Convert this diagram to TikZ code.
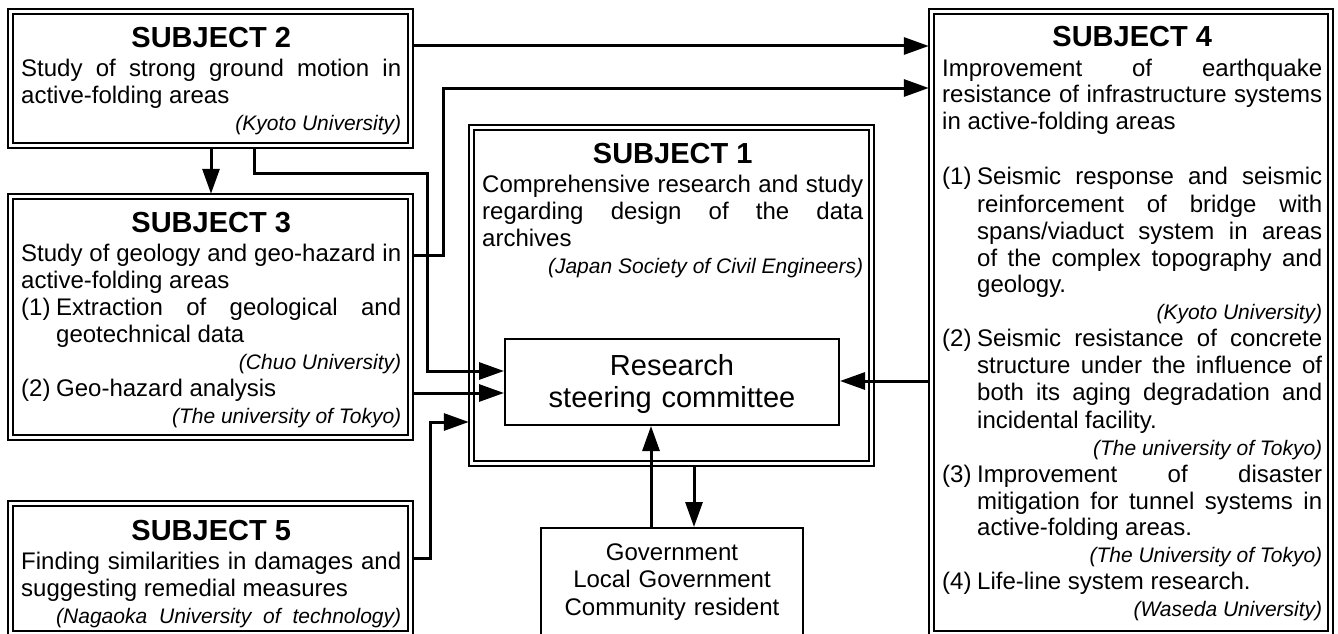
\documentclass[tikz,border=0pt]{standalone}
\usepackage{fontspec}
\setmainfont{Liberation Sans}
\usetikzlibrary{arrows.meta,fit}
\hyphenpenalty=10000
\exhyphenpenalty=10000
\tolerance=10000
\hbadness=10000
\tikzset{
  boxn/.style={inner sep=0pt, draw=none},
  outerline/.style={line width=2.2pt},
  innerline/.style={line width=1.5pt},
  plainbox/.style={draw, line width=2pt, inner sep=0pt},
  conn/.style={line width=3pt, -{Triangle[length=25pt,width=17pt]}},
  txt/.style={inner sep=0pt, anchor=base west, text width=380pt, align=justify,
    font=\fontsize{24}{27}\selectfont},
  ctxt/.style={inner sep=0pt, anchor=base, align=center},
}
\newcommand\dframe[1]{%
  \draw[outerline] (#1.north west) rectangle (#1.south east);
  \draw[innerline] ([shift={(5,5)}]#1.north west) rectangle ([shift={(-5,-5)}]#1.south east);}
\newcommand\ttl[1]{{\centering\fontsize{29}{29}\selectfont\bfseries #1\par}\vspace{2pt}}
\newcommand\aff[1]{{\fontsize{21}{27}\selectfont\itshape\noindent\hfill #1\par}}
\newcommand\itm[2]{\hangindent=35pt\hangafter=1\noindent\makebox[35pt][l]{#1}#2\par}
\begin{document}
\begin{tikzpicture}[x=1pt,y=-1pt]
\useasboundingbox (0,0) rectangle (1338,634);
\fill[white] (0,0) rectangle (1338,634);

% boxes
\node[boxn, fit={(8,9)(413,148)}] (s2) {};
\node[boxn, fit={(8,194)(413,440)}] (s3) {};
\node[boxn, fit={(8,501)(413,636)}] (s5) {};
\node[boxn, fit={(469,125)(874,466)}] (s1) {};
\node[boxn, fit={(929,9)(1333,636)}] (s4) {};
\dframe{s2}
\dframe{s3}
\dframe{s5}
\dframe{s1}
\dframe{s4}
\node[plainbox, fit={(505,339)(839,425)}] (rc) {};
\node[plainbox, fit={(541,528)(803,636)}] (gov) {};

% texts
\node[txt] (s2t) at (21,48) {\ttl{SUBJECT 2}
Study of strong ground motion in\linebreak active-folding areas\par
\aff{(Kyoto University)}};

\node[txt] (s3t) at (21,232) {\ttl{SUBJECT 3}
Study of geology and geo-hazard in\linebreak active-folding areas\par
\itm{(1)}{Extraction of geological and\linebreak geotechnical data}
\aff{(Chuo University)}
\itm{(2)}{Geo-hazard analysis}
\aff{(The university of Tokyo)}};

\node[txt] (s5t) at (21,540) {\ttl{SUBJECT 5}
Finding similarities in damages and\linebreak suggesting remedial measures\par
\aff{\makebox[345pt][s]{(Nagaoka University of technology)}}};

\node[txt, text width=381pt] (s1t) at (482,163) {\ttl{SUBJECT 1}
Comprehensive research and study\linebreak regarding design of the data\linebreak archives\par
\aff{(Japan Society of Civil Engineers)}};

\node[txt] (s4t) at (942,47) {\ttl{SUBJECT 4}
Improvement of earthquake\linebreak resistance of infrastructure systems\linebreak in active-folding areas\par
\vspace{28pt}
\itm{(1)}{Seismic response and seismic\linebreak reinforcement of bridge with\linebreak spans/viaduct system in areas\linebreak of the complex topography and\linebreak geology.}
\aff{(Kyoto University)}
\itm{(2)}{Seismic resistance of concrete\linebreak structure under the influence of\linebreak both its aging degradation and\linebreak incidental facility.}
\aff{(The university of Tokyo)}
\itm{(3)}{Improvement of disaster\linebreak mitigation for tunnel systems in\linebreak active-folding areas.}
\aff{(The University of Tokyo)}
\itm{(4)}{Life-line system research.}
\aff{(Waseda University)}};

\node[ctxt, text width=330pt, font=\fontsize{29}{32}\selectfont] (rct) at (672,375) {Research\\steering committee};
\node[ctxt, text width=260pt, font=\fontsize{24}{27.5}\selectfont] (govt) at (672,560) {Government\\Local Government\\Community resident};

% connectors
\draw[conn] (s2.east |- 0,46) -- (s4.west |- 0,46);
\draw[conn] (s3.east |- 0,255) -- (443,255) |- (s4.west |- 0,88);
\draw[conn] (s2.south -| 254,0) |- (427,173) |- (rc.west |- 0,371);
\draw[conn] (s3.east |- 0,393) -- (rc.west |- 0,393);
\draw[conn] (s5.east |- 0,558) -| (430,422) -- (s1.west |- 0,422);
\draw[conn] (s2.south -| 211,0) -- (s3.north -| 211,0);
\draw[conn] (s4.west |- 0,381) -- (rc.east |- 0,381);
\draw[conn] (gov.north -| 651,0) -- (rc.south -| 651,0);
\draw[conn] (s1.south -| 694,0) -- (gov.north -| 694,0);
\end{tikzpicture}
\end{document}
